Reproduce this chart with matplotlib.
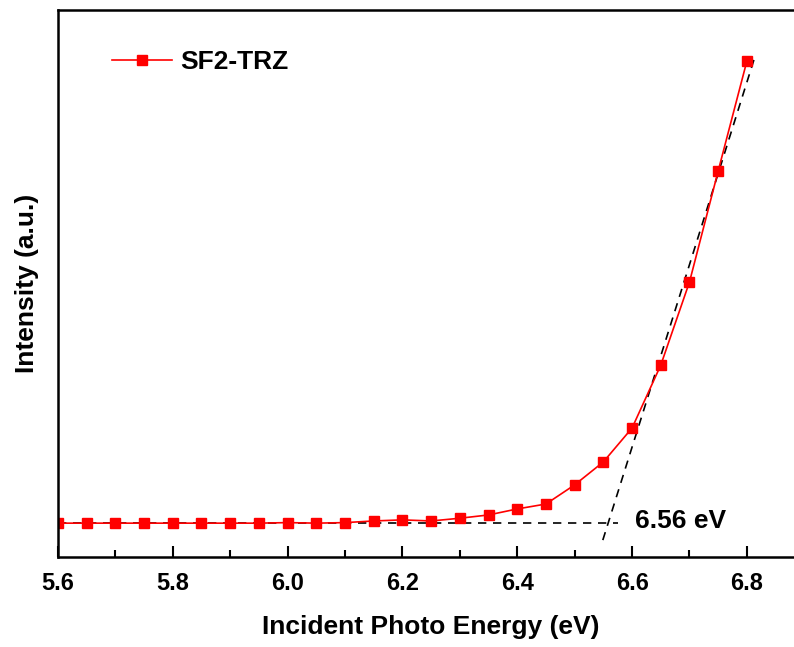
import numpy as np
import matplotlib.pyplot as plt
from matplotlib.ticker import MultipleLocator

plt.rcParams['font.family'] = ['Liberation Sans', 'DejaVu Sans']
plt.rcParams['font.weight'] = 'bold'

# data (intensity in arbitrary units)
energy = [5.6, 5.65, 5.7, 5.75, 5.8, 5.85, 5.9, 5.95, 6.0, 6.05, 6.1,
          6.15, 6.2, 6.25, 6.3, 6.35, 6.4, 6.45, 6.5, 6.55, 6.6, 6.65,
          6.7, 6.75, 6.8]
intensity = [6.2, 6.2, 6.2, 6.2, 6.2, 6.2, 6.2, 6.2, 6.3, 6.2, 6.3,
             6.6, 6.8, 6.6, 7.1, 7.7, 8.8, 9.7, 13.2, 17.4, 23.6, 35.1,
             50.3, 70.6, 90.7]

# fitted lines
base_x = [5.6, 6.576]
base_y = [6.2, 6.2]
fit_x = [6.549, 6.8155]
fit_y = [3.1, 92.0]
onset_label = "6.56 eV"

fig = plt.figure(figsize=(7.94, 6.47), dpi=100)
ax = fig.add_axes([0.073, 0.139, 0.94, 0.8454])

ax.plot(base_x, base_y, color='black', lw=1.2, ls=(0, (5, 4)), zorder=1)
ax.plot(fit_x, fit_y, color='black', lw=1.2, ls=(0, (5, 4)), zorder=1)
ax.plot(energy, intensity, color='red', lw=1.2, marker='s', ms=7,
        label='SF2-TRZ', zorder=2)

ax.text(6.605, 6.6, onset_label, fontsize=19, fontweight='bold', va='center')

ax.set_xlim(5.6, 6.9)
ax.set_ylim(0, 100)
ax.xaxis.set_major_locator(MultipleLocator(0.2))
ax.xaxis.set_minor_locator(MultipleLocator(0.1))
ax.set_yticks([])
ax.tick_params(axis='x', which='major', direction='in', length=8, width=1.5,
               labelsize=17, pad=11)
ax.tick_params(axis='x', which='minor', direction='in', length=5, width=1.5)
for s in ax.spines.values():
    s.set_linewidth(1.8)

ax.set_xlabel('Incident Photo Energy (eV)', fontsize=19, fontweight='bold', labelpad=14)
ax.set_ylabel('Intensity (a.u.)', fontsize=19, fontweight='bold', labelpad=14)

ax.legend(loc='upper left', bbox_to_anchor=(0.04, 0.97), frameon=False,
          fontsize=19, handlelength=2.3, handletextpad=0.3)

fig.savefig('out.png', dpi=100)
